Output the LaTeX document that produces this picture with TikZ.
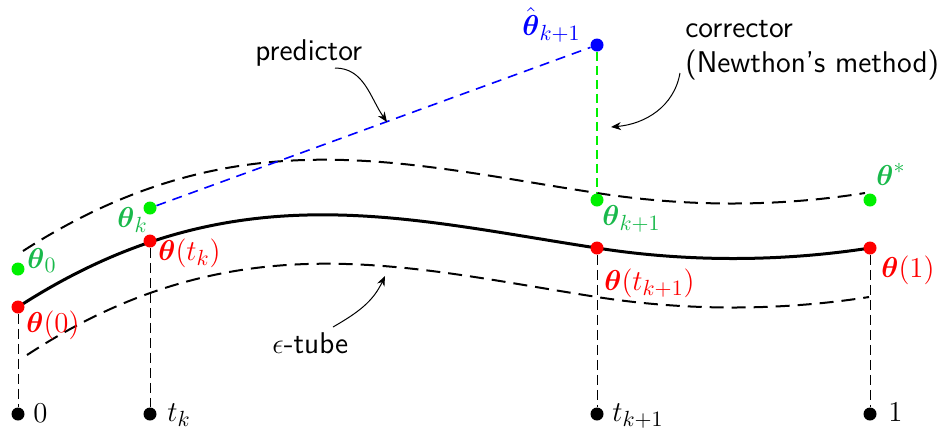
\documentclass[tikz,border=0pt]{standalone}
\usepackage{amsmath,amssymb}
\usetikzlibrary{arrows.meta}
\definecolor{lblgreen}{RGB}{25,185,75}
\definecolor{dotgreen}{RGB}{0,240,0}
\begin{document}
\begin{tikzpicture}[x=0.5pt,y=-0.5pt,
  every node/.style={font=\fontsize{15}{18}\selectfont},
  dot/.style={circle,inner sep=0pt,minimum size=6.5pt,draw=none},
  lbl/.style={inner sep=0pt,anchor=base west},
  tube/.style={line width=1pt,dash pattern=on 7pt off 4pt},
  guide/.style={line width=0.5pt,dash pattern=on 5pt off 2.5pt},
  ann/.style={line width=0.5pt,-{Stealth[length=5pt,width=4pt]}},
  txt/.style={inner sep=0pt,anchor=base west,font=\fontsize{15}{18}\selectfont\sffamily}]
\useasboundingbox (0,0) rectangle (937,430);
% tube and path
\draw[tube] (23,251) .. controls (235,115) and (400,163) .. (597,193)
  .. controls (686,207) and (778,207) .. (865,193);
\draw[tube] (27,355) .. controls (235,219) and (405,267) .. (597,297)
  .. controls (686,311) and (780,311) .. (869,297);
\draw[line width=1.5pt] (18,307) .. controls (230,170) and (400,218) .. (597,248)
  .. controls (686,262) and (780,262) .. (870,248);
% dots
\node[dot,fill=red] (r0) at (18,307) {};
\node[dot,fill=red] (rk) at (150,241) {};
\node[dot,fill=red] (rk1) at (597,248) {};
\node[dot,fill=red] (r1) at (870,248) {};
\node[dot,fill=dotgreen] (g0) at (18,269) {};
\node[dot,fill=dotgreen] (gk) at (150,208) {};
\node[dot,fill=dotgreen] (gk1) at (597,200) {};
\node[dot,fill=dotgreen] (gs) at (870,200) {};
\node[dot,fill=blue] (b) at (597,45) {};
\node[dot,fill=black] (t0) at (18,414) {};
\node[dot,fill=black] (tk) at (150,414) {};
\node[dot,fill=black] (tk1) at (597,414) {};
\node[dot,fill=black] (t1) at (870,414) {};
% connectors
\draw[guide] (r0) -- (t0);
\draw[guide] (rk) -- (tk);
\draw[guide] (rk1) -- (tk1);
\draw[guide] (r1) -- (t1);
\draw[blue,line width=0.8pt,dash pattern=on 5pt off 3.5pt] (gk) -- (b);
\draw[dotgreen,line width=0.8pt,dash pattern=on 4.5pt off 2.5pt] (b) -- (gk1);
% labels
\node[lbl,text=red] (l0) at (26,332) {$\boldsymbol{\theta}(0)$};
\node[lbl,text=red] (lk) at (158,260) {$\boldsymbol{\theta}(t_k)$};
\node[lbl,text=red] (lk1) at (604,290) {$\boldsymbol{\theta}(t_{k+1})$};
\node[lbl,text=red] (l1) at (881,277) {$\boldsymbol{\theta}(1)$};
\node[lbl,text=lblgreen] (m0) at (27,268) {$\boldsymbol{\theta}_0$};
\node[lbl,text=lblgreen] (mk) at (117,227) {$\boldsymbol{\theta}_k$};
\node[lbl,text=lblgreen] (mk1) at (602,225) {$\boldsymbol{\theta}_{k+1}$};
\node[lbl,text=lblgreen] (ms) at (876,185) {$\boldsymbol{\theta}^*$};
\node[lbl,text=blue] (mb) at (522,35) {$\hat{\boldsymbol{\theta}}_{k+1}$};
\node[lbl] (n0) at (33,422) {$0$};
\node[lbl] (nk) at (167,421) {$t_k$};
\node[lbl] (nk1) at (612,421) {$t_{k+1}$};
\node[lbl] (n1) at (888,421) {$1$};
% annotations
\node[txt] (pred) at (255,60) {predictor};
\node[txt] (corr) at (685,37) {corrector};
\node[txt] (newt) at (685,72) {(Newthon's method)};
\node[txt] (tubel) at (272,353) {$\epsilon$-tube};
\coordinate (pa) at (335,68);
\coordinate (pb) at (387,122);
\coordinate (ca) at (680,73);
\coordinate (cb) at (611,127);
\coordinate (ea) at (333,327);
\coordinate (eb) at (385,276);
\draw[ann] (pa) to[out=0,in=125] (pb);
\draw[ann] (ca) to[out=-100,in=5] (cb);
\draw[ann] (ea) to[out=30,in=-115] (eb);
\end{tikzpicture}
\end{document}
